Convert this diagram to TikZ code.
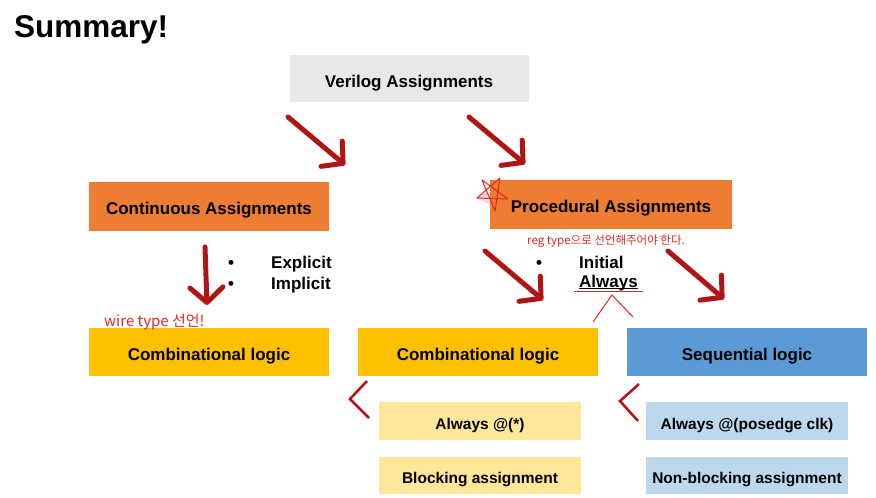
\documentclass[tikz,border=0pt]{standalone}
\usepackage{fontspec}
\setmainfont{Liberation Sans}
\newfontfamily\krfont{Noto Sans CJK KR}
\usetikzlibrary{arrows.meta}
\definecolor{boxgray}{HTML}{E8E8E8}
\definecolor{boxorange}{HTML}{ED7D31}
\definecolor{boxgold}{HTML}{FFC000}
\definecolor{boxblue}{HTML}{5B9BD5}
\definecolor{lightgold}{HTML}{FFE699}
\definecolor{lightblue}{HTML}{BDD7EE}
\definecolor{penred}{HTML}{B01414}
\definecolor{notered}{HTML}{E32626}
\tikzset{
  box/.style={inner sep=0pt, minimum width=240pt, minimum height=48pt, text height=17pt, text depth=0pt, font=\fontsize{17}{20}\selectfont\bfseries},
  subbox/.style={inner sep=0pt, minimum width=202pt, minimum height=37pt, text height=17pt, text depth=0pt, font=\fontsize{15.5}{18}\selectfont\bfseries},
  item/.style={anchor=base west, inner sep=0pt, font=\fontsize{17}{20}\selectfont\bfseries},
  pen/.style={draw=penred, line width=5pt, line cap=round, -{Straight Barb[length=15pt,width=33pt,round]}},
  chev/.style={draw=penred, line width=2.5pt},
  note/.style={anchor=west, inner sep=0pt, text=notered},
  scribble/.style={draw=notered, line width=1pt},
}
\begin{document}
\begin{tikzpicture}[x=1pt,y=-1pt]
\useasboundingbox (0,0) rectangle (876,498);
\node[anchor=base west, inner sep=0pt, font=\fontsize{31.5}{36}\selectfont\bfseries] (title) at (14,37) {Summary!};

% boxes
\node[box, fill=boxgray, minimum width=239pt, minimum height=47pt, text height=19pt] (verilog) at (409,78) {Verilog Assignments};
\node[box, fill=boxorange, minimum height=49pt] (cont) at (209,206) {Continuous Assignments};
\node[box, fill=boxorange, minimum width=242pt, minimum height=49pt] (proc) at (611,204) {Procedural Assignments};
\node[box, fill=boxgold] (combl) at (209,352) {Combinational logic};
\node[box, fill=boxgold] (combr) at (478,352) {Combinational logic};
\node[box, fill=boxblue] (seq) at (747,352) {Sequential logic};
\node[subbox, fill=lightgold, minimum height=38pt] (star) at (480,421) {Always @(*)};
\node[subbox, fill=lightgold] (block) at (480,475) {Blocking assignment};
\node[subbox, fill=lightblue, minimum height=38pt] (posedge) at (747,421) {Always @(posedge clk)};
\node[subbox, fill=lightblue] (nonblock) at (747,475) {Non-blocking assignment};

% bullet lists
\node[item] (b1) at (228,268) {•};
\node[item] (b2) at (228,289) {•};
\node[item] (explicit) at (271,268) {Explicit};
\node[item] (implicit) at (271,289) {Implicit};
\node[item] (b3) at (536,268) {•};
\node[item] (initial) at (579,268) {Initial};
\node[item] (always) at (579,287) {Always};
\draw[line width=1.3pt] ([yshift=-1.5pt]always.base west) -- ([yshift=-1.5pt]always.base east);

% pen arrows
\coordinate (a1s) at (288,117); \coordinate (a1e) at (345,165);
\coordinate (a2s) at (469,117); \coordinate (a2e) at (525,164);
\coordinate (a3s) at (205,247); \coordinate (a3e) at (207,305);
\coordinate (a4s) at (485,251); \coordinate (a4e) at (543,300);
\coordinate (a5s) at (668,251); \coordinate (a5e) at (724,299);
\draw[pen] (a1s) -- (a1e);
\draw[pen] (a2s) -- (a2e);
\draw[pen] (a3s) -- (a3e);
\draw[pen] (a4s) -- (a4e);
\draw[pen] (a5s) -- (a5e);
\draw[chev] (367,381) -- (350,399) -- (369,418);
\draw[chev] (639,384) -- (620,401) -- (638,421);

% notes
\node[note, font=\krfont\fontsize{15}{17}\selectfont] (wire) at (104,322) {wire type 선언!};
\node[note, font=\krfont\fontsize{11.5}{13}\selectfont] (reg) at (527,241) {reg type으로 선언해주어야 한다.};
\draw[scribble] (574,291) -- (643,291);
\draw[scribble] (593,322) -- (612,295) -- (633,317);
\fill[notered, opacity=.2] (477,198) -- (487,191) -- (489,204) -- cycle;
\draw[scribble, line join=round] (482,180) -- (508,199) -- (477,198) -- (500,178) -- (495,211) -- cycle;
\end{tikzpicture}
\end{document}
